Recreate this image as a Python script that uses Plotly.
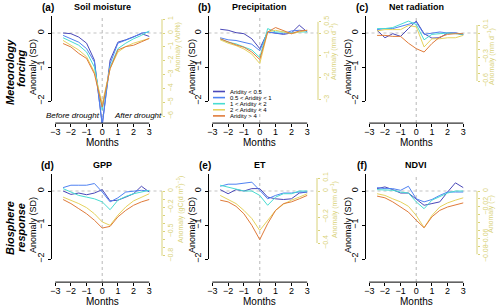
import plotly.graph_objects as go

W, H = 500, 307

# ---------------- data ----------------
months = [-2.5, -2, -1.5, -1, -0.5, 0, 0.5, 1, 1.5, 2, 2.5, 3]
month_ticks = [-3, -2, -1, 0, 1, 2, 3]
sd_ticks = [-2, -1, 0]
aridity_classes = ["Aridity < 0.5", "0.5 < Aridity < 1", "1 < Aridity < 2",
                   "2 < Aridity < 4", "Aridity > 4"]

soil_moisture = [
    [0.00, -0.02, -0.12, -0.30, -0.80, -2.70, -0.80, -0.27, -0.20, -0.12, -0.02, -0.10],
    [-0.07, -0.17, -0.27, -0.46, -0.85, -2.70, -0.90, -0.30, -0.22, -0.12, 0.00, 0.03],
    [-0.14, -0.26, -0.36, -0.56, -1.00, -2.27, -1.00, -0.46, -0.30, -0.17, -0.07, 0.06],
    [-0.22, -0.36, -0.50, -0.70, -1.15, -2.08, -1.05, -0.56, -0.40, -0.30, -0.24, -0.16],
    [-0.31, -0.41, -0.60, -0.75, -1.20, -2.18, -1.05, -0.50, -0.40, -0.36, -0.26, -0.16],
]
precipitation = [
    [0.11, 0.08, 0.01, -0.02, -0.17, -0.46, 0.03, 0.00, -0.04, 0.00, 0.23, 0.03],
    [-0.14, -0.20, -0.22, -0.27, -0.33, -0.52, 0.03, 0.00, -0.02, 0.06, 0.08, 0.06],
    [-0.17, -0.27, -0.32, -0.42, -0.50, -0.72, 0.13, 0.03, 0.03, 0.00, 0.03, 0.03],
    [-0.20, -0.30, -0.37, -0.47, -0.62, -0.90, 0.03, 0.08, 0.03, -0.02, 0.03, 0.08],
    [-0.17, -0.27, -0.35, -0.42, -0.56, -0.78, 0.03, 0.16, 0.08, -0.02, 0.06, 0.08],
]
net_radiation = [
    [0.08, -0.14, -0.02, -0.10, 0.13, 0.35, -0.02, -0.15, -0.14, 0.00, 0.00, -0.05],
    [0.10, 0.13, 0.13, 0.20, 0.25, 0.32, -0.04, 0.00, 0.03, 0.00, 0.00, -0.04],
    [0.13, 0.13, 0.16, 0.25, 0.35, 0.25, -0.20, -0.04, -0.02, 0.00, -0.02, -0.04],
    [0.06, 0.10, 0.10, 0.10, 0.22, 0.18, -0.41, -0.17, -0.17, -0.14, -0.14, -0.07],
    [-0.07, -0.07, -0.10, -0.10, -0.30, -0.46, -0.56, -0.31, -0.12, -0.04, -0.02, -0.02],
]
gpp = [
    [0.00, -0.10, -0.06, -0.11, -0.06, 0.04, -0.29, -0.27, -0.18, -0.08, 0.14, -0.03],
    [0.10, 0.17, 0.17, 0.17, 0.22, -0.03, -0.32, -0.20, -0.03, 0.00, 0.02, 0.00],
    [0.07, -0.03, -0.13, -0.18, -0.23, -0.32, -0.55, -0.27, -0.16, -0.08, -0.03, 0.02],
    [-0.18, -0.27, -0.37, -0.49, -0.67, -0.91, -1.01, -0.71, -0.47, -0.29, -0.18, -0.08],
    [-0.25, -0.37, -0.52, -0.67, -0.86, -1.09, -1.04, -0.76, -0.57, -0.42, -0.32, -0.25],
]
et = [
    [0.04, -0.08, 0.04, 0.00, 0.07, 0.07, -0.18, -0.23, -0.25, -0.23, -0.06, -0.03],
    [0.14, 0.20, 0.20, 0.22, 0.26, 0.02, -0.23, -0.13, -0.06, -0.06, -0.03, -0.03],
    [0.17, 0.12, 0.07, 0.00, 0.00, -0.13, -0.42, -0.18, -0.08, -0.08, 0.00, 0.00],
    [-0.13, -0.25, -0.37, -0.57, -0.81, -1.16, -0.86, -0.57, -0.39, -0.27, -0.18, -0.08],
    [-0.27, -0.32, -0.45, -0.67, -1.01, -1.43, -0.96, -0.57, -0.37, -0.32, -0.23, -0.13],
]
ndvi = [
    [0.07, 0.12, 0.04, -0.06, -0.06, -0.25, -0.42, -0.37, -0.32, -0.03, 0.24, 0.10],
    [0.10, 0.07, 0.07, 0.02, 0.14, -0.23, -0.32, -0.25, -0.13, -0.03, -0.03, -0.03],
    [0.04, 0.04, 0.02, -0.03, -0.06, -0.32, -0.52, -0.27, -0.16, -0.06, 0.00, 0.00],
    [-0.08, -0.13, -0.23, -0.32, -0.45, -0.72, -1.08, -0.72, -0.47, -0.35, -0.27, -0.20],
    [-0.15, -0.20, -0.32, -0.47, -0.62, -0.86, -1.08, -0.76, -0.57, -0.47, -0.40, -0.35],
]

# right-axis (physical unit) ticks: labelled ticks and all tick positions
sm_ticks = [1, 0, -1, -2, -3, -4, -5, -6]
sm_labels = ["1", "0", "−1", "−2", "−3", "−4", "−5", "−6"]
sm_all = sm_ticks
pr_ticks = [0.5, 0, -1, -2, -3]
pr_labels = ["0.5", "0", "−1", "−2", "−3"]
pr_all = pr_ticks
rn_ticks = [0.1, -0.3, -0.6]
rn_labels = ["0.1", "−0.3", "−0.6"]
rn_all = [0.1, 0, -0.1, -0.2, -0.3, -0.4, -0.5, -0.6]
gpp_ticks = [0, -0.2, -0.5, -0.8]
gpp_labels = ["0", "−0.2", "−0.5", "−0.8"]
gpp_all = [0, -0.1, -0.2, -0.3, -0.4, -0.5, -0.6, -0.7, -0.8]
et_ticks = [0.1, 0, -0.2, -0.4]
et_labels = ["0.1", "0", "−0.2", "−0.4"]
et_all = [0.1, 0, -0.1, -0.2, -0.3, -0.4]
ndvi_ticks = [0, -0.02, -0.06, -0.08]
ndvi_labels = ["0", "−0.02", "−0.06", "−0.08"]
ndvi_all = [0, -0.01, -0.02, -0.03, -0.04, -0.05, -0.06, -0.07, -0.08]

# ---------------- style / layout ----------------
colors = ["#4a48b8", "#4f82f2", "#48dcd2", "#e6d35e", "#e07b3a"]
ycol = "#d9d27a"
FONT = "Liberation Sans, Arial, sans-serif"


def px(x):
    return x / W


def py(y):
    return 1 - y / H


xdoms = [(51.5, 153.0), (208.5, 311.0), (365.5, 467.0)]
row_y = [dict(zero=33.0, lo=-2.65, hi=0.55), dict(zero=191.0, lo=-2.68, hi=0.55)]
SDPX = 34.0

panels = [
    dict(letter="(a)", title="Soil moisture", data=soil_moisture, k=2.453, rax=162,
         rt=sm_ticks, rl=sm_labels, ra=sm_all, rtitle="Anomaly (Vol%)", rtx=178, rty=47, ltx=33),
    dict(letter="(b)", title="Precipitation", data=precipitation, k=1.525, rax=318,
         rt=pr_ticks, rl=pr_labels, ra=pr_all, rtitle="Anomaly (mm d<sup>−1</sup>)", rtx=334, rty=52, ltx=192),
    dict(letter="(c)", title="Net radiation", data=net_radiation, k=0.425, rax=477,
         rt=rn_ticks, rl=rn_labels, ra=rn_all, rtitle="Anomaly (mm d<sup>−1</sup>)", rtx=492, rty=57, ltx=348),
    dict(letter="(d)", title="GPP", data=gpp, k=0.42, rax=162,
         rt=gpp_ticks, rl=gpp_labels, ra=gpp_all, rtitle="Anomaly (gC(d m<sup>2</sup>)<sup>−1</sup>)", rtx=180, rty=210, ltx=33),
    dict(letter="(e)", title="ET", data=et, k=0.2615, rax=317,
         rt=et_ticks, rl=et_labels, ra=et_all, rtitle="Anomaly (mm d<sup>−1</sup>)", rtx=334, rty=210, ltx=192),
    dict(letter="(f)", title="NDVI", data=ndvi, k=0.043, rax=477,
         rt=ndvi_ticks, rl=ndvi_labels, ra=ndvi_all, rtitle="Anomaly (−)", rtx=491, rty=214, ltx=348),
]

fig = go.Figure()
layout = {}
shapes = []
annotations = []


def ann(text, x, y, size, color="black", angle=0, xanchor="center"):
    annotations.append(dict(text=text, x=px(x), y=py(y), xref="paper", yref="paper",
                            showarrow=False, textangle=angle, xanchor=xanchor, yanchor="middle",
                            font=dict(family=FONT, size=size, color=color)))


for i, p in enumerate(panels):
    n = i + 1
    row, col = divmod(i, 3)
    xa = "x" if n == 1 else f"x{n}"
    ya = "y" if n == 1 else f"y{n}"
    yr = f"y{n + 6}"
    xl, xr = xdoms[col]
    ry = row_y[row]
    top = ry["zero"] - ry["hi"] * SDPX
    bot = ry["zero"] - ry["lo"] * SDPX

    # dotted reference lines (below data)
    shapes.append(dict(type="line", xref="paper", x0=px(xl), x1=px(p["rax"]), yref=ya, y0=0, y1=0,
                       line=dict(color="#c4c4c4", width=1.2, dash="dot"), layer="below"))
    shapes.append(dict(type="line", xref=xa, x0=0, x1=0, yref=f"{ya} domain", y0=0, y1=0.97,
                       line=dict(color="#c4c4c4", width=1.2, dash="dot"), layer="below"))

    for k in range(5):
        fig.add_trace(go.Scatter(x=months, y=p["data"][k], xaxis=xa, yaxis=ya, mode="lines",
                                 line=dict(color=colors[k], width=1), showlegend=False,
                                 hoverinfo="skip"))
    fig.add_trace(go.Scatter(x=[], y=[], xaxis=xa, yaxis=yr, showlegend=False, hoverinfo="skip"))

    layout["xaxis" if n == 1 else f"xaxis{n}"] = dict(
        domain=[px(xl), px(xr)], anchor=ya, range=[-3.24, 3.24], tickvals=month_ticks,
        ticks="outside", ticklen=3, tickcolor="black", showline=False, showgrid=False,
        zeroline=False, ticklabelstandoff=-3,
        tickfont=dict(family=FONT, size=9, color="black"))
    layout["yaxis" if n == 1 else f"yaxis{n}"] = dict(
        domain=[py(bot), py(top)], anchor=xa, range=[ry["lo"], ry["hi"]], tickvals=sd_ticks,
        ticks="outside", ticklen=3, tickcolor="black", tickangle=-90, showline=False,
        showgrid=False, zeroline=False, tickfont=dict(family=FONT, size=9, color="black"))
    layout[f"yaxis{n + 6}"] = dict(
        overlaying=ya, side="right", anchor="free", position=px(p["rax"]),
        range=[ry["lo"] * p["k"], ry["hi"] * p["k"]], tickvals=p["rt"], ticktext=p["rl"],
        ticks="outside", ticklen=2, tickcolor=ycol, tickangle=-90, showline=False,
        showgrid=False, zeroline=False, tickfont=dict(family=FONT, size=7, color=ycol),
        minor=dict(tickvals=p["ra"], ticks="outside", ticklen=2, tickcolor=ycol, showgrid=False))

    # axis lines (R style: tick-to-tick)
    shapes.append(dict(type="line", xref=xa, x0=-3, x1=3, yref=f"{ya} domain", y0=0, y1=0,
                       line=dict(color="black", width=1)))
    shapes.append(dict(type="line", xref=f"{xa} domain", x0=0, x1=0, yref=ya, y0=-2, y1=0.5,
                       line=dict(color="black", width=1)))
    shapes.append(dict(type="line", xref="paper", x0=px(p["rax"]), x1=px(p["rax"]), yref=yr,
                       y0=min(p["ra"]), y1=max(p["ra"]), line=dict(color=ycol, width=1)))

    # texts
    cx = (xl + xr) / 2
    ty = 7 if row == 0 else 165
    ann(f"<b>{p['letter']}</b>", xl - 4, ty, 10)
    ann(f"<b>{p['title']}</b>", cx, ty, 9)
    ann("Anomaly (SD)", p["ltx"], ry["zero"] + 34, 9, angle=-90)
    ann(p["rtitle"], p["rtx"], p["rty"], 7, color=ycol, angle=-90)
    ann("Months", cx, bot + 19.5, 10)

# row labels
ann("<b><i>Meteorology</i></b>", 10, 72, 11, angle=-90)
ann("<b><i>forcing</i></b>", 21, 68, 11, angle=-90)
ann("<b><i>Biosphere</i></b>", 10, 228, 11, angle=-90)
ann("<b><i>response</i></b>", 21, 228, 11, angle=-90)

# before / after drought
ann("<i>Before drought</i>", 73, 116, 8)
ann("<i>After drought</i>", 138, 116, 8)

# legend in panel (b)
for k, name in enumerate(aridity_classes):
    yy = 91.5 + k * 6.1
    shapes.append(dict(type="line", xref="paper", yref="paper", x0=px(213), x1=px(225),
                       y0=py(yy), y1=py(yy), line=dict(color=colors[k], width=1.6)))
    ann(name, 228, yy, 6, xanchor="left")

layout.update(dict(width=W, height=H, margin=dict(l=0, r=0, t=0, b=0),
                   paper_bgcolor="white", plot_bgcolor="white", showlegend=False,
                   shapes=shapes, annotations=annotations,
                   font=dict(family=FONT, color="black")))
fig.update_layout(**layout)
fig.write_html("out.html", config={"displayModeBar": False},
               post_script="document.body.style.margin='0';document.body.style.overflow='hidden';")
